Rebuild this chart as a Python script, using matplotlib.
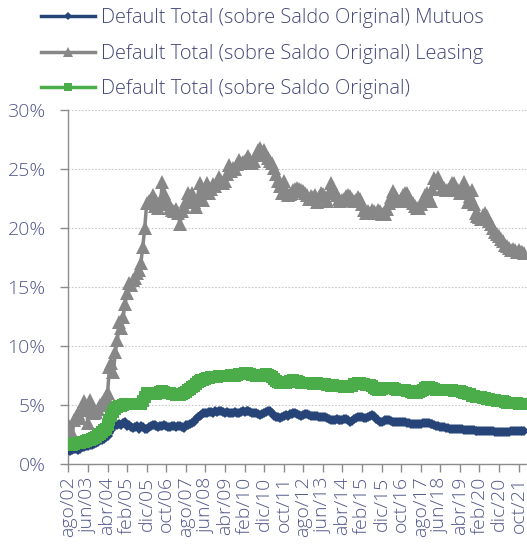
import matplotlib
matplotlib.use("Agg")
import matplotlib.pyplot as plt
import numpy as np

MONTHS = ["ene", "feb", "mar", "abr", "may", "jun", "jul", "ago", "sep", "oct", "nov", "dic"]
start_month, start_year, n_months = 7, 2002, 234
categories = []
for k in range(n_months):
    m = (start_month + k) % 12
    y = start_year + (start_month + k) // 12
    categories.append(f"{MONTHS[m]}/{y % 100:02d}")

mutuos = [
    1.2, 1.1, 1.2, 1.3, 1.3, 1.2, 1.3, 1.4, 1.4, 1.5,
    1.5, 1.6, 1.6, 1.7, 1.8, 1.9, 2.0, 2.0, 2.1, 2.3,
    2.4, 2.6, 2.9, 3.2, 3.3, 3.3, 3.4, 3.3, 3.5, 3.6,
    3.2, 3.3, 3.1, 3.05, 3.1, 3.2, 3.0, 3.2, 3.1, 3.0,
    3.0, 3.1, 3.2, 3.3, 3.3, 3.2, 3.1, 3.2, 3.2, 3.3,
    3.2, 3.1, 3.15, 3.2, 3.2, 3.1, 3.2, 3.2, 3.1, 3.05,
    3.3, 3.3, 3.4, 3.5, 3.6, 3.8, 4.0, 4.1, 4.15, 4.3,
    4.3, 4.3, 4.4, 4.4, 4.35, 4.45, 4.4, 4.45, 4.5, 4.4,
    4.35, 4.4, 4.35, 4.3, 4.35, 4.4, 4.3, 4.35, 4.4, 4.45,
    4.4, 4.5, 4.45, 4.4, 4.35, 4.3, 4.3, 4.2, 4.15, 4.2,
    4.3, 4.4, 4.45, 4.45, 4.3, 4.1, 4.0, 3.95, 3.9, 4.0,
    4.1, 4.15, 4.1, 4.2, 4.25, 4.3, 4.3, 4.2, 4.15, 4.1,
    4.15, 4.2, 4.2, 4.15, 4.1, 4.05, 4.1, 4.05, 4.0, 4.0,
    4.0, 3.95, 3.9, 3.85, 3.75, 3.7, 3.75, 3.8, 3.75, 3.7,
    3.75, 3.8, 3.8, 3.7, 3.6, 3.65, 3.8, 3.9, 4.0, 4.0,
    3.95, 3.9, 3.9, 3.95, 4.05, 4.15, 4.05, 3.85, 3.7, 3.6,
    3.6, 3.65, 3.7, 3.7, 3.7, 3.65, 3.6, 3.6, 3.6, 3.55,
    3.55, 3.6, 3.55, 3.5, 3.45, 3.4, 3.4, 3.35, 3.35, 3.4,
    3.4, 3.45, 3.45, 3.45, 3.45, 3.4, 3.35, 3.3, 3.25, 3.2,
    3.15, 3.1, 3.1, 3.05, 3.05, 3.0, 3.0, 3.0, 2.95, 2.95,
    2.95, 2.95, 2.9, 2.9, 2.9, 2.85, 2.85, 2.85, 2.8, 2.8,
    2.8, 2.8, 2.8, 2.8, 2.78, 2.78, 2.76, 2.76, 2.75, 2.75,
    2.75, 2.75, 2.75, 2.75, 2.75, 2.75, 2.76, 2.76, 2.76, 2.76,
    2.76, 2.76, 2.76, 2.76,
]

leasing = [
    3.4, 2.0, 2.6, 3.7, 4.0, 4.3, 3.9, 4.6, 5.3, 4.8,
    3.5, 5.4, 4.9, 4.3, 4.4, 4.7, 5.0, 5.2, 5.4, 5.8,
    6.0, 8.2, 8.6, 7.8, 9.5, 10.5, 12.0, 11.5, 12.5, 13.6,
    14.5, 15.3, 15.2, 15.6, 15.8, 16.2, 16.4, 17.0, 18.4, 20.0,
    22.1, 22.3, 22.5, 22.8, 21.9, 22.3, 21.7, 22.0, 23.9, 23.0,
    22.5, 22.2, 21.7, 21.5, 21.4, 21.6, 21.3, 20.3, 21.4, 21.8,
    22.3, 23.0, 22.4, 23.0, 22.2, 21.8, 22.5, 23.8, 23.0, 22.4,
    23.2, 23.8, 23.0, 23.3, 23.7, 23.6, 23.9, 24.3, 24.0, 23.8,
    24.0, 24.6, 25.3, 24.8, 25.1, 25.0, 25.4, 25.8, 25.5, 25.6,
    25.7, 25.9, 26.1, 25.8, 25.5, 25.7, 26.2, 26.6, 26.8, 26.4,
    26.6, 26.2, 25.9, 25.7, 25.5, 25.1, 24.6, 24.0, 23.6, 23.0,
    24.0, 23.1, 22.8, 22.9, 23.0, 23.2, 23.3, 23.4, 23.3, 23.2,
    23.1, 23.0, 22.8, 22.5, 22.7, 22.6, 22.8, 22.2, 22.6, 23.0,
    22.9, 22.6, 22.3, 23.0, 23.8, 23.4, 23.0, 22.8, 22.5, 22.3,
    22.4, 22.5, 22.7, 22.8, 22.7, 22.5, 22.3, 22.4, 22.6, 22.5,
    22.0, 21.5, 21.3, 21.4, 21.3, 21.5, 21.4, 21.3, 21.5, 21.4,
    21.2, 21.3, 21.2, 21.6, 22.1, 22.6, 23.1, 22.8, 22.5, 22.3,
    22.5, 22.8, 23.0, 23.0, 22.6, 22.3, 22.1, 21.9, 21.7, 21.7,
    22.0, 22.4, 22.8, 23.0, 22.6, 22.3, 23.3, 24.2, 24.0, 24.3,
    23.8, 23.3, 23.4, 23.2, 23.2, 23.5, 23.8, 23.8, 23.4, 23.2,
    23.0, 23.4, 23.9, 23.2, 22.2, 22.7, 23.2, 22.0, 21.3, 21.0,
    20.9, 20.8, 21.1, 21.3, 21.0, 20.6, 20.3, 20.0, 19.7, 19.5,
    19.3, 19.1, 18.9, 18.6, 18.5, 18.3, 18.1, 18.2, 18.1, 18.0,
    18.1, 18.0, 18.0, 17.9,
]

total = [
    1.6, 1.6, 1.65, 1.7, 1.75, 1.75, 1.8, 1.85, 1.9, 1.95,
    2.0, 2.05, 2.1, 2.2, 2.3, 2.45, 2.55, 2.7, 2.85, 3.0,
    3.3, 3.7, 4.1, 4.4, 4.7, 4.85, 4.9, 4.95, 5.0, 5.05,
    5.1, 5.1, 5.05, 5.1, 5.1, 5.1, 5.05, 5.1, 5.3, 5.7,
    6.0, 6.05, 6.0, 6.05, 5.95, 5.9, 6.0, 6.1, 6.15, 6.1,
    6.0, 6.0, 6.0, 5.95, 5.9, 5.85, 5.85, 5.85, 5.9, 6.0,
    6.1, 6.25, 6.35, 6.5, 6.6, 6.8, 6.95, 7.0, 7.1, 7.15,
    7.2, 7.25, 7.3, 7.35, 7.4, 7.4, 7.4, 7.45, 7.45, 7.45,
    7.45, 7.5, 7.5, 7.55, 7.5, 7.5, 7.55, 7.6, 7.6, 7.65,
    7.7, 7.7, 7.65, 7.6, 7.55, 7.55, 7.5, 7.5, 7.55, 7.55,
    7.55, 7.6, 7.55, 7.5, 7.4, 7.2, 7.0, 6.95, 6.9, 6.85,
    6.85, 6.9, 6.95, 7.0, 7.05, 7.1, 7.05, 7.0, 6.95, 6.9,
    6.85, 6.85, 6.9, 6.85, 6.85, 6.8, 6.85, 6.85, 6.8, 6.8,
    6.75, 6.75, 6.7, 6.7, 6.65, 6.7, 6.65, 6.6, 6.6, 6.6,
    6.6, 6.55, 6.55, 6.55, 6.6, 6.65, 6.75, 6.8, 6.85, 6.85,
    6.8, 6.75, 6.7, 6.7, 6.7, 6.6, 6.45, 6.35, 6.3, 6.3,
    6.35, 6.4, 6.4, 6.4, 6.45, 6.4, 6.4, 6.35, 6.3, 6.3,
    6.3, 6.3, 6.25, 6.2, 6.15, 6.1, 6.05, 6.05, 6.05, 6.1,
    6.2, 6.3, 6.45, 6.55, 6.5, 6.45, 6.4, 6.35, 6.3, 6.3,
    6.3, 6.3, 6.25, 6.25, 6.3, 6.3, 6.25, 6.2, 6.2, 6.2,
    6.15, 6.1, 6.05, 6.0, 5.95, 5.9, 5.8, 5.75, 5.7, 5.7,
    5.65, 5.65, 5.6, 5.6, 5.55, 5.5, 5.45, 5.4, 5.4, 5.35,
    5.35, 5.3, 5.3, 5.25, 5.2, 5.2, 5.2, 5.15, 5.15, 5.15,
    5.1, 5.1, 5.1, 5.1,
]

series_labels = [
    "Default Total (sobre Saldo Original) Mutuos",
    "Default Total (sobre Saldo Original) Leasing",
    "Default Total (sobre Saldo Original)",
]
yticks = [0, 5, 10, 15, 20, 25, 30]

plt.rcParams["font.family"] = ["Open Sans", "DejaVu Sans"]
plt.rcParams["font.weight"] = "light"
TICK_COLOR = "#525889"
LEG_COLOR = "#434877"

fig = plt.figure(figsize=(5.27, 5.46), dpi=100)
ax = fig.add_axes([68 / 527, 1 - 464 / 546, 1 - 68 / 527, (464 - 110) / 546])

x = np.arange(n_months)
l1, = ax.plot(x, mutuos, color="#264478", lw=2.5, marker="D", ms=5.5,
              markeredgewidth=0, label=series_labels[0], zorder=3)
l2, = ax.plot(x, leasing, color="#878787", lw=2.5, marker="^", ms=9.5,
              markeredgewidth=0, label=series_labels[1], zorder=3)
l3, = ax.plot(x, total, color="#4aad4a", lw=2.5, marker="s", ms=8.5,
              markeredgewidth=0, label=series_labels[2], zorder=3)

ax.set_ylim(0, 30)
ax.set_xlim(-0.2, n_months + 0.3)
ax.set_yticks(yticks)
ax.set_yticklabels([f"{v}%" for v in yticks])
tick_pos = list(range(0, n_months, 10))
ax.set_xticks(tick_pos)
ax.set_xticklabels([categories[p] for p in tick_pos], rotation=90)

ax.grid(axis="y", color="#c8c8c8", linestyle=(0, (1.5, 1.5)), linewidth=0.8, zorder=0)
ax.set_axisbelow(True)
for s in ["top", "right"]:
    ax.spines[s].set_visible(False)
for s in ["left", "bottom"]:
    ax.spines[s].set_color("#8c8c8c")
    ax.spines[s].set_linewidth(1.0)
ax.tick_params(axis="both", direction="out", length=6, width=1.0, color="#8c8c8c",
               labelcolor=TICK_COLOR, labelsize=14)
ax.tick_params(axis="y", pad=10)
ax.tick_params(axis="x", pad=3)

leg = fig.legend(handles=[l1, l2, l3], loc="upper left",
                 bbox_to_anchor=(41 / 527, 1 - 8 / 546), frameon=False,
                 fontsize=14.4, handlelength=2.7, handletextpad=0.3,
                 labelspacing=0.78, borderpad=0, borderaxespad=0, markerscale=0.7)
for t in leg.get_texts():
    t.set_color(LEG_COLOR)

fig.savefig("out.png", dpi=100)
